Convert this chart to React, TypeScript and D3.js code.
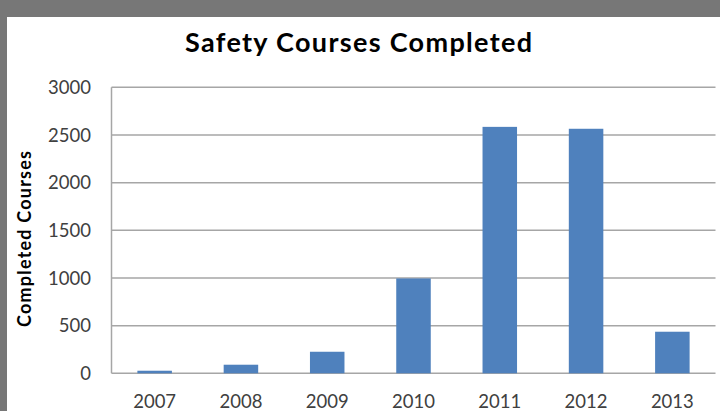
import React, { useRef, useEffect } from 'react';
import * as d3 from 'd3';

// chart values
const years = ['2007', '2008', '2009', '2010', '2011', '2012', '2013'];
const completed = [27, 90, 226, 995, 2585, 2565, 436];
const yTicks = [0, 500, 1000, 1500, 2000, 2500, 3000];

const W = 720;
const H = 411;

const App = () => {
  const svgRef = useRef<SVGSVGElement>(null);

  useEffect(() => {
    const svg = d3.select(svgRef.current);
    svg.selectAll('*').remove();

    // grey frame round the white chart area
    svg.append('rect').attr('width', W).attr('height', H).attr('fill', '#777777');
    svg.append('rect').attr('x', 7).attr('y', 17).attr('width', W - 7).attr('height', H - 17).attr('fill', '#ffffff');

    const left = 111.5;
    const right = 715.5;
    const top = 87.3;
    const bottom = 373.3;

    const x = d3.scaleBand().domain(years).range([left, right]).paddingInner(0.6).paddingOuter(0.3);
    const y = d3.scaleLinear().domain([0, 3000]).range([bottom, top]);

    // gridlines
    svg.append('g')
      .selectAll('line')
      .data(yTicks)
      .join('line')
      .attr('x1', left)
      .attr('x2', right)
      .attr('y1', (d) => y(d))
      .attr('y2', (d) => y(d))
      .attr('stroke', '#a6a6a6')
      .attr('stroke-width', 1.5);

    // left axis line
    svg.append('line')
      .attr('x1', left).attr('x2', left)
      .attr('y1', top).attr('y2', bottom)
      .attr('stroke', '#a6a6a6')
      .attr('stroke-width', 1.5);

    // bars
    svg.append('g')
      .selectAll('rect')
      .data(years)
      .join('rect')
      .attr('x', (d) => x(d)!)
      .attr('width', x.bandwidth())
      .attr('y', (d, i) => y(completed[i]))
      .attr('height', (d, i) => bottom - y(completed[i]))
      .attr('fill', '#4f81bd');

    // y tick labels
    svg.append('g')
      .selectAll('text')
      .data(yTicks)
      .join('text')
      .attr('x', 91)
      .attr('y', (d) => y(d))
      .attr('dy', '0.36em')
      .attr('text-anchor', 'end')
      .attr('font-family', 'Lato, sans-serif')
      .attr('font-size', 18.5)
      .attr('fill', '#404040')
      .text((d) => d);

    // x tick labels
    svg.append('g')
      .selectAll('text')
      .data(years)
      .join('text')
      .attr('x', (d) => x(d)! + x.bandwidth() / 2)
      .attr('y', 407.5)
      .attr('text-anchor', 'middle')
      .attr('font-family', 'Lato, sans-serif')
      .attr('font-size', 18.5)
      .attr('fill', '#404040')
      .text((d) => d);

    // title
    svg.append('text')
      .attr('x', 358.5)
      .attr('y', 51.5)
      .attr('text-anchor', 'middle')
      .attr('font-family', 'Lato, sans-serif')
      .attr('font-weight', 'bold')
      .attr('font-size', 27)
      .attr('textLength', 347)
      .attr('lengthAdjust', 'spacing')
      .attr('fill', '#000')
      .text('Safety Courses Completed');

    // y axis title
    svg.append('text')
      .attr('transform', 'translate(31,239) rotate(-90)')
      .attr('text-anchor', 'middle')
      .attr('font-family', 'Lato, sans-serif')
      .attr('font-weight', 'bold')
      .attr('font-size', 18)
      .attr('textLength', 176)
      .attr('lengthAdjust', 'spacing')
      .attr('fill', '#000')
      .text('Completed Courses');
  }, []);

  return (
    <div style={{ position: 'absolute', left: 0, top: 0 }}>
      <svg ref={svgRef} width={W} height={H} style={{ display: 'block' }}></svg>
    </div>
  );
};

export default App;
